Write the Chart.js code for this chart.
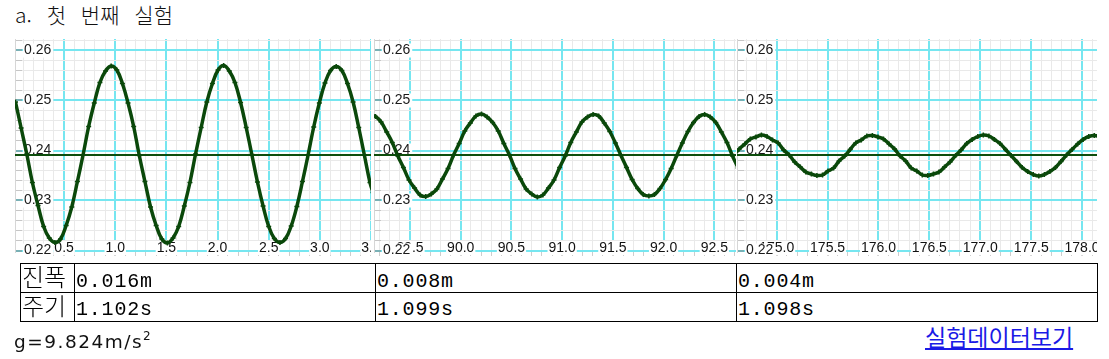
<!DOCTYPE html>
<html lang="ko">
<head>
<meta charset="utf-8">
<script src="https://cdn.jsdelivr.net/npm/chart.js@4.4.1/dist/chart.umd.min.js"></script>
<style>
  body { margin: 0; background: #fff; width: 1109px; height: 359px; overflow: hidden; position: relative; font-family: "Noto Sans CJK KR", sans-serif; }
  .title { position: absolute; left: 15px; top: 4px; font-size: 21px; line-height: 21px; word-spacing: 9px; color: #111; white-space: nowrap; font-weight: 300; }
  canvas.panel { position: absolute; top: 30px; }
  #p1 { left: 0; }
  #p2 { left: 371px; }
  #p3 { left: 737px; }
  .tbl { position: absolute; left: 20px; top: 263px; width: 1078px; height: 59px; border: 1px solid #000; box-sizing: border-box; }
  .hline { position: absolute; left: 0; right: 0; top: 28px; height: 1px; background: #000; }
  .vline { position: absolute; top: 0; bottom: 0; width: 1px; background: #000; }
  .txt { position: absolute; white-space: nowrap; color: #000; }
  .lab { font-size: 24px; line-height: 24px; font-weight: 300; }
  .num { font-family: "Liberation Mono", monospace; font-size: 20px; line-height: 23px; letter-spacing: 0.8px; }
  .g { position: absolute; left: 14px; top: 331px; font-family: "DejaVu Sans", sans-serif; font-size: 18.5px; line-height: 22px; letter-spacing: 1.5px; color: #111; }
  .g sup { font-size: 12px; vertical-align: 8px; line-height: 0; }
  .link { position: absolute; left: 925px; top: 325px; font-size: 23px; line-height: 23px; color: #1a1ae6; text-decoration: underline; text-decoration-color: #1a1ae6; border-bottom: 1px dotted #e89a30; white-space: nowrap; }
</style>
</head>
<body>

<div class="title">a. 첫 번째 실험</div>

<canvas id="p1" class="panel" width="371" height="230"></canvas>
<canvas id="p2" class="panel" width="366" height="230"></canvas>
<canvas id="p3" class="panel" width="360" height="230"></canvas>

<div class="tbl" id="tbl">
  <div class="hline"></div>
  <div class="vline" style="left:53px"></div>
  <div class="vline" style="left:354px"></div>
  <div class="vline" style="left:715px"></div>
</div>

<div class="g">g=9.824m/s<sup>2</sup></div>
<div class="link">실험데이터보기</div>

<script>
// 첫 번째 구간 (0 ~ 3.5 s) : 시간, 높이(m)
var t1 = [0.025, 0.08, 0.135, 0.19, 0.245, 0.3, 0.355, 0.41, 0.465, 0.52,
          0.575, 0.63, 0.685, 0.74, 0.795, 0.85, 0.905, 0.96, 1.015, 1.07,
          1.125, 1.18, 1.235, 1.29, 1.345, 1.4, 1.455, 1.51, 1.565, 1.62,
          1.675, 1.73, 1.785, 1.84, 1.895, 1.95, 2.005, 2.06, 2.115, 2.17,
          2.225, 2.28, 2.335, 2.39, 2.445, 2.5, 2.555, 2.61, 2.665, 2.72,
          2.775, 2.83, 2.885, 2.94, 2.995, 3.05, 3.105, 3.16, 3.215, 3.27,
          3.325, 3.38, 3.435, 3.49, 3.52];
var y1 = [0.2497, 0.2445, 0.2393, 0.2336, 0.2290, 0.2248, 0.2225, 0.2216, 0.2223, 0.2250,
          0.2287, 0.2338, 0.2391, 0.2448, 0.2495, 0.2536, 0.2559, 0.2569, 0.2561, 0.2534,
          0.2495, 0.2448, 0.2390, 0.2338, 0.2287, 0.2250, 0.2223, 0.2215, 0.2225, 0.2248,
          0.2289, 0.2336, 0.2393, 0.2446, 0.2497, 0.2534, 0.2561, 0.2570, 0.2559, 0.2536,
          0.2496, 0.2446, 0.2392, 0.2337, 0.2289, 0.2248, 0.2224, 0.2216, 0.2224, 0.2249,
          0.2288, 0.2338, 0.2391, 0.2447, 0.2495, 0.2535, 0.2560, 0.2568, 0.2560, 0.2534,
          0.2497, 0.2446, 0.2391, 0.2336, 0.2316];

// 두 번째 구간 (89 ~ 92.7 s)
var t2 = [89.105, 89.16, 89.215, 89.27, 89.325, 89.38, 89.435, 89.49, 89.545, 89.6,
          89.655, 89.71, 89.765, 89.82, 89.875, 89.93, 89.985, 90.04, 90.095, 90.15,
          90.205, 90.26, 90.315, 90.37, 90.425, 90.48, 90.535, 90.59, 90.645, 90.7,
          90.755, 90.81, 90.865, 90.92, 90.975, 91.03, 91.085, 91.14, 91.195, 91.25,
          91.305, 91.36, 91.415, 91.47, 91.525, 91.58, 91.635, 91.69, 91.745, 91.8,
          91.855, 91.91, 91.965, 92.02, 92.075, 92.13, 92.185, 92.24, 92.295, 92.35,
          92.405, 92.46, 92.515, 92.57, 92.625, 92.68, 92.735];
var y2 = [0.2471, 0.2468, 0.2457, 0.2437, 0.2416, 0.2389, 0.2366, 0.2341, 0.2325, 0.2311,
          0.2308, 0.2313, 0.2323, 0.2343, 0.2364, 0.2391, 0.2414, 0.2439, 0.2455, 0.2469,
          0.2473, 0.2467, 0.2456, 0.2439, 0.2414, 0.2391, 0.2364, 0.2343, 0.2323, 0.2313,
          0.2307, 0.2311, 0.2325, 0.2341, 0.2366, 0.2389, 0.2416, 0.2437, 0.2457, 0.2467,
          0.2472, 0.2469, 0.2455, 0.2438, 0.2415, 0.2390, 0.2366, 0.2342, 0.2324, 0.2312,
          0.2309, 0.2312, 0.2324, 0.2342, 0.2364, 0.2390, 0.2415, 0.2438, 0.2456, 0.2468,
          0.2472, 0.2467, 0.2456, 0.2437, 0.2416, 0.2389, 0.2365];

// 세 번째 구간 (174.6 ~ 178.1 s)
var t3 = [174.578, 174.632, 174.687, 174.741, 174.796, 174.85, 174.905, 174.959, 175.014, 175.068,
          175.123, 175.177, 175.232, 175.286, 175.341, 175.395, 175.45, 175.504, 175.559, 175.613,
          175.668, 175.722, 175.777, 175.831, 175.886, 175.94, 175.995, 176.049, 176.104, 176.158,
          176.213, 176.267, 176.322, 176.376, 176.431, 176.485, 176.54, 176.594, 176.649, 176.703,
          176.758, 176.812, 176.867, 176.921, 176.976, 177.03, 177.085, 177.139, 177.194, 177.248,
          177.303, 177.357, 177.412, 177.466, 177.521, 177.575, 177.63, 177.684, 177.739, 177.793,
          177.848, 177.902, 177.957, 178.011, 178.066, 178.12, 178.175];
var y3 = [0.2391, 0.2403, 0.2413, 0.2423, 0.2427, 0.2431, 0.2428, 0.2421, 0.2415, 0.2401,
          0.2391, 0.2377, 0.2367, 0.2357, 0.2353, 0.2350, 0.2351, 0.2359, 0.2365, 0.2379,
          0.2389, 0.2402, 0.2415, 0.2421, 0.2429, 0.2430, 0.2427, 0.2423, 0.2413, 0.2403,
          0.2389, 0.2379, 0.2365, 0.2359, 0.2351, 0.2350, 0.2353, 0.2357, 0.2367, 0.2377,
          0.2390, 0.2401, 0.2414, 0.2422, 0.2428, 0.2431, 0.2429, 0.2422, 0.2414, 0.2402,
          0.2390, 0.2378, 0.2366, 0.2358, 0.2352, 0.2349, 0.2352, 0.2358, 0.2366, 0.2378,
          0.2391, 0.2402, 0.2413, 0.2422, 0.2428, 0.2430, 0.2428];

// 축 범위와 평형 위치
var xRange1 = [0.02, 3.5];
var xRange2 = [89.145, 92.714];
var xRange3 = [174.61, 178.147];
var yRange = [0.2197, 0.2623];
var equilibrium = 0.2391;

// 표 내용
var rowLabels = ['진폭', '주기'];
var amplitudes = ['0.016m', '0.008m', '0.004m'];
var periods = ['1.102s', '1.099s', '1.098s'];

var curveColor = '#0a480a';
var cyan = '#76e6f0';
var minorGrid = '#e9e9e9';
var tickFont = { family: '"Liberation Sans", Arial, sans-serif', size: 14, lineHeight: 1 };

function isMajor(v, step) {
    var r = v / step;
    return Math.abs(r - Math.round(r)) < 1e-6;
}

function makeChart(id, times, values, xr, padL, padR) {
    var ctx = document.getElementById(id).getContext('2d');
    var points = times.map(function (t, i) { return { x: t, y: values[i] }; });

    return new Chart(ctx, {
        type: 'line',
        data: {
            datasets: [{
                data: points,
                borderColor: curveColor,
                borderWidth: 3.5,
                tension: 0.4,
                pointStyle: 'cross',
                pointRadius: 2.5,
                pointBorderWidth: 1.5,
                pointBorderColor: curveColor,
                order: 0
            }, {
                // 평형 위치 선
                data: [{ x: xr[0], y: equilibrium }, { x: xr[1], y: equilibrium }],
                borderColor: '#0d4d0d',
                borderWidth: 2,
                pointRadius: 0,
                order: 1
            }]
        },
        options: {
            responsive: false,
            animation: false,
            events: [],
            layout: { autoPadding: false, padding: { left: padL, right: padR, top: 9, bottom: 2 } },
            plugins: { legend: { display: false }, tooltip: { enabled: false } },
            scales: {
                x: {
                    type: 'linear',
                    position: 'bottom',
                    min: xr[0],
                    max: xr[1],
                    afterFit: function (s) { s.height = 6; s.paddingLeft = 0; s.paddingRight = 0; },
                    border: { display: false },
                    grid: {
                        color: function (c) { return c.tick && isMajor(c.tick.value, 0.5) ? cyan : minorGrid; },
                        lineWidth: function (c) { return c.tick && isMajor(c.tick.value, 0.5) ? 2 : 1; },
                        tickColor: function (c) { return c.tick && isMajor(c.tick.value, 0.5) ? '#b0b0b0' : '#cdcdcd'; },
                        tickWidth: 1,
                        tickLength: 4
                    },
                    ticks: {
                        stepSize: 0.1,
                        autoSkip: false,
                        includeBounds: false,
                        maxRotation: 0,
                        minRotation: 0,
                        mirror: true,
                        padding: -3,
                        color: '#111',
                        font: tickFont,
                        showLabelBackdrop: function (c) { return isMajor(c.tick.value, 0.5); },
                        backdropColor: '#ffffff',
                        backdropPadding: { left: 1, right: 1, top: 0, bottom: 0 },
                        callback: function (v) { return isMajor(v, 0.5) ? v.toFixed(1) : ''; }
                    }
                },
                y: {
                    type: 'linear',
                    position: 'left',
                    min: yRange[0],
                    max: yRange[1],
                    afterFit: function (s) { s.width = 0; s.paddingTop = 0; s.paddingBottom = 0; },
                    border: { display: true, color: '#d6d6d6', width: 1 },
                    grid: {
                        color: function (c) { return c.tick && isMajor(c.tick.value, 0.01) ? cyan : minorGrid; },
                        lineWidth: function (c) { return c.tick && isMajor(c.tick.value, 0.01) ? 2 : 1; },
                        tickColor: function (c) { return c.tick && isMajor(c.tick.value, 0.01) ? '#7a7a7a' : '#c6c6c6'; },
                        tickWidth: 1,
                        tickLength: -7
                    },
                    ticks: {
                        stepSize: 0.002,
                        autoSkip: false,
                        includeBounds: false,
                        mirror: true,
                        padding: 9,
                        color: '#1a1a1a',
                        font: tickFont,
                        showLabelBackdrop: function (c) { return isMajor(c.tick.value, 0.01); },
                        backdropColor: '#ffffff',
                        backdropPadding: { left: 1, right: 2, top: 0, bottom: 0 },
                        callback: function (v) { return isMajor(v, 0.01) ? v.toFixed(2) : ''; }
                    }
                }
            }
        }
    });
}

makeChart('p1', t1, y1, xRange1, 15, 0);
makeChart('p2', t2, y2, xRange2, 3, 1);
makeChart('p3', t3, y3, xRange3, 0, 0);

// 표 채우기
var tbl = document.getElementById('tbl');
function addText(cls, text, left, top) {
    var d = document.createElement('div');
    d.className = 'txt ' + cls;
    d.style.left = left + 'px';
    d.style.top = top + 'px';
    d.textContent = text;
    tbl.appendChild(d);
}
var colLeft = [55, 356, 717];
addText('lab', rowLabels[0], 1, 0);
addText('lab', rowLabels[1], 1, 29);
amplitudes.forEach(function (a, i) { addText('num', a, colLeft[i], 6); });
periods.forEach(function (p, i) { addText('num', p, colLeft[i], 34); });
</script>
</body>
</html>
